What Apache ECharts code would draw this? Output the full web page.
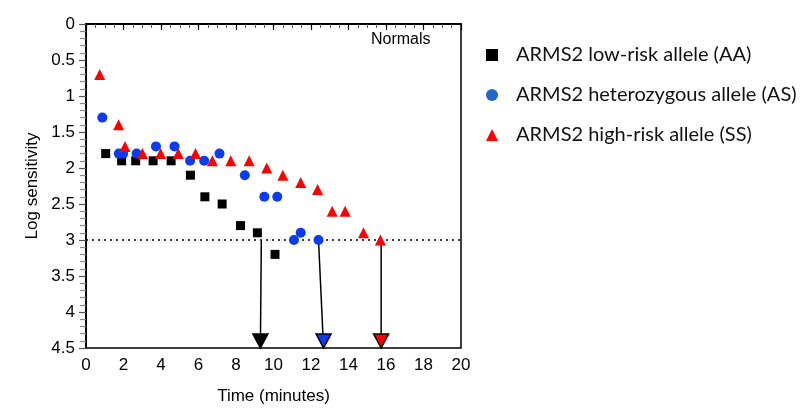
<!DOCTYPE html>
<html>
<head>
<meta charset="utf-8">
<script src="https://cdn.jsdelivr.net/npm/echarts@6/dist/echarts.min.js"></script>
<style>html,body{margin:0;padding:0;background:#fff;}#c{width:800px;height:410px;}</style>
</head>
<body>
<div id="c"></div>
<script>
var seriesNames = ['ARMS2 low-risk allele (AA)', 'ARMS2 heterozygous allele (AS)', 'ARMS2 high-risk allele (SS)'];
var lowRiskX = [1.05, 1.9, 2.65, 3.58, 4.54, 5.57, 6.34, 7.26, 8.24, 9.14, 10.08];
var lowRiskY = [1.8, 1.9, 1.9, 1.9, 1.9, 2.1, 2.4, 2.5, 2.8, 2.9, 3.2];
var hetX = [0.87, 1.75, 1.98, 2.7, 3.73, 4.72, 5.55, 6.3, 7.12, 8.47, 9.51, 10.2, 11.09, 11.45, 12.4];
var hetY = [1.3, 1.8, 1.8, 1.8, 1.7, 1.7, 1.9, 1.9, 1.8, 2.1, 2.4, 2.4, 3.0, 2.9, 3.0];
var highX = [0.73, 1.74, 2.08, 3.01, 3.98, 4.92, 5.84, 6.74, 7.72, 8.7, 9.64, 10.5, 11.45, 12.35, 13.13, 13.82, 14.8, 15.7];
var highY = [0.7, 1.4, 1.7, 1.8, 1.8, 1.8, 1.8, 1.9, 1.9, 1.9, 2.0, 2.1, 2.2, 2.3, 2.6, 2.6, 2.9, 3.0];
var threshold = 3.0;
var arrowStartX = [9.35, 12.4, 15.74];
var arrowEndX = [9.3, 12.67, 15.74];
var arrowStartY = [3.0, 3.0, 3.0];
var arrowEndY = [4.5, 4.5, 4.5];
var yTicks = [0, 0.5, 1, 1.5, 2, 2.5, 3, 3.5, 4, 4.5];
var xTicks = [0, 2, 4, 6, 8, 10, 12, 14, 16, 18, 20];

var colors = ['#000000', '#0a3cf5', '#ff0000'];
var legendColors = ['#000000', '#2266cc', '#ff0000'];
var symbols = ['rect', 'circle', 'triangle'];
var symSizes = [9, 10, 11];

function zip(xs, ys) { return xs.map(function (x, i) { return [x, ys[i]]; }); }
var groups = [zip(lowRiskX, lowRiskY), zip(hetX, hetY), zip(highX, highY)];

var series = [];
for (var i = 0; i < 3; i++) {
  series.push({
    type: 'line', silent: true, symbol: 'none', z: 3,
    lineStyle: { color: '#000', width: 1.5 },
    data: [[arrowStartX[i], arrowStartY[i]], [arrowEndX[i], arrowEndY[i]]]
  });
  series.push({
    type: 'scatter', silent: true, z: 4,
    symbol: 'triangle', symbolRotate: 180, symbolSize: [15, 14], symbolOffset: [0, -7],
    itemStyle: { color: colors[i], borderColor: '#000', borderWidth: 1.5, opacity: 1 },
    data: [[arrowEndX[i], arrowEndY[i]]]
  });
}
for (var k = 0; k < 3; k++) {
  series.push({
    name: seriesNames[k], type: 'scatter', z: 5,
    symbol: symbols[k], symbolSize: symSizes[k],
    itemStyle: { color: colors[k], opacity: 1 },
    data: groups[k],
    markLine: k === 0 ? {
      silent: true, symbol: 'none', label: { show: false },
      lineStyle: { color: '#000', type: [2, 4], width: 1.5 },
      data: [{ yAxis: threshold }]
    } : undefined
  });
}

var chart = echarts.init(document.getElementById('c'), null, { renderer: 'canvas' });
chart.setOption({
  animation: false,
  backgroundColor: '#fff',
  textStyle: { fontFamily: 'Liberation Sans, Arial, sans-serif' },
  grid: { left: 86, top: 24, width: 375, height: 326, show: true, borderColor: '#000', borderWidth: 1.5, backgroundColor: 'transparent' },
  legend: {
    orient: 'vertical', left: 481, top: 40, itemGap: 20,
    itemWidth: 12, itemHeight: 12,
    textStyle: { fontFamily: 'Lato, Open Sans, sans-serif', fontSize: 20, color: '#111', padding: [0, 0, 0, 13], lineHeight: 20 },
    data: seriesNames.map(function (n, i) { return { name: n, icon: symbols[i], itemStyle: { color: legendColors[i], opacity: 1 } }; })
  },
  graphic: [{
    type: 'text', left: 371, top: 32,
    style: { text: 'Normals', fontSize: 16, fontFamily: 'Liberation Sans, Arial', fill: '#000' }
  }],
  xAxis: {
    type: 'value', min: 0, max: 20, interval: 2,
    name: 'Time (minutes)', nameLocation: 'middle', nameGap: 40,
    nameTextStyle: { fontSize: 17, color: '#000' },
    axisLine: { show: true, lineStyle: { color: '#000', width: 2 } },
    axisTick: { show: true, length: 6, lineStyle: { color: '#000', width: 1.2 } },
    minorTick: { show: true, splitNumber: 4, length: 4, lineStyle: { color: '#555', width: 1 } },
    axisLabel: { fontSize: 17, color: '#000', margin: 9,
      formatter: function (v) { return xTicks.indexOf(v) >= 0 ? String(v) : ''; } },
    splitLine: { show: false }
  },
  yAxis: {
    type: 'value', inverse: true, min: 0, max: 4.5, interval: 0.5,
    name: 'Log sensitivity', nameLocation: 'middle', nameGap: 45,
    nameTextStyle: { fontSize: 17, color: '#000' },
    axisLine: { show: true, lineStyle: { color: '#000', width: 2 } },
    axisTick: { show: true, length: 7, lineStyle: { color: '#555', width: 1.2 } },
    minorTick: { show: true, splitNumber: 5, length: 6, lineStyle: { color: '#888', width: 1.2 } },
    axisLabel: { fontSize: 17, color: '#000', margin: 11,
      formatter: function (v) { return yTicks.indexOf(v) >= 0 ? String(v) : ''; } },
    splitLine: { show: false }
  },
  series: series
});
</script>
</body>
</html>
